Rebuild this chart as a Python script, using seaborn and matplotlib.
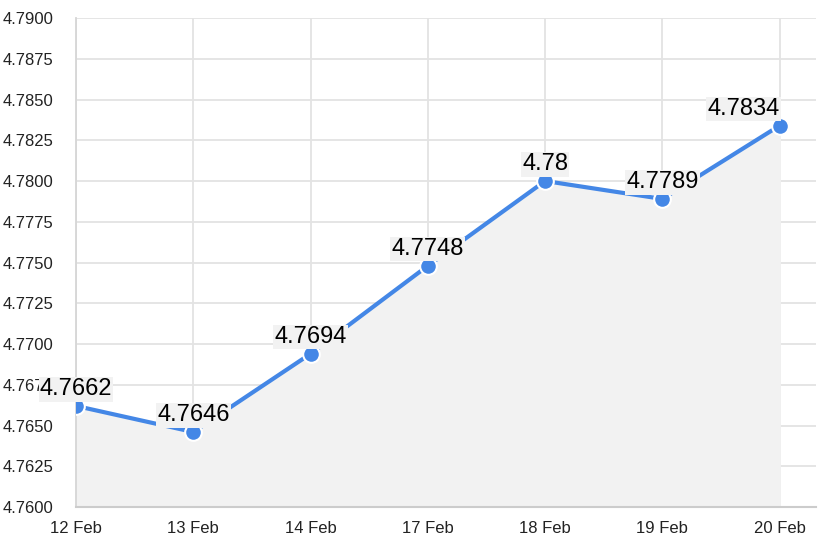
import seaborn as sns
import matplotlib.pyplot as plt
import pandas as pd

dates = ["12 Feb", "13 Feb", "14 Feb", "17 Feb", "18 Feb", "19 Feb", "20 Feb"]
rates = [4.7662, 4.7646, 4.7694, 4.7748, 4.78, 4.7789, 4.7834]
rate_labels = ["4.7662", "4.7646", "4.7694", "4.7748", "4.78", "4.7789", "4.7834"]
y_ticks = [4.76 + 0.0025 * i for i in range(13)]

sns.set_style("whitegrid")
plt.rcParams['font.family'] = ['Liberation Sans', 'DejaVu Sans']

df = pd.DataFrame({"pos": range(len(dates)), "rate": rates})

fig = plt.figure(figsize=(8.2, 5.54), dpi=100)
ax = fig.add_axes([76 / 820, 47 / 554, 740 / 820, 489 / 554])

ax.fill_between(df["pos"], df["rate"], 4.76, color="#f2f2f2", zorder=1)
sns.lineplot(data=df, x="pos", y="rate", ax=ax, color="#4487e6", linewidth=3,
             marker="o", markersize=12, markeredgecolor="white",
             markeredgewidth=1.5, zorder=3)

# last label sits left of its point so it stays inside the chart
for i, (x, y, lab) in enumerate(zip(df["pos"], df["rate"], rate_labels)):
    ha = "right" if i == len(dates) - 1 else "center"
    ax.annotate(lab, (x, y), xytext=(0, 4), textcoords="offset points",
                ha=ha, va="bottom", fontsize=17, color="black",
                bbox=dict(boxstyle="square,pad=0.05", fc="#f2f2f2", ec="none"),
                zorder=5)

ax.set_xlim(0, 6.31)
ax.set_ylim(4.76, 4.79)
ax.set_xticks(range(len(dates)))
ax.set_xticklabels(dates)
ax.set_yticks(y_ticks)
ax.set_yticklabels([f"{t:.4f}" for t in y_ticks])
ax.set_xlabel("")
ax.set_ylabel("")

ax.grid(True, color="#e3e3e3", linewidth=1.3)
ax.tick_params(axis="y", length=7, color="#d6d6d6", width=1.3, pad=9,
               labelsize=12, labelcolor="#222222")
ax.tick_params(axis="x", length=5, color="#d6d6d6", width=1.3, pad=5,
               labelsize=12, labelcolor="#222222")
for side in ["top", "right"]:
    ax.spines[side].set_visible(False)
ax.spines["left"].set_color("#d6d6d6")
ax.spines["left"].set_linewidth(1.3)
ax.spines["bottom"].set_color("#cccccc")
ax.spines["bottom"].set_linewidth(1.5)

fig.savefig("out.png", dpi=100)
